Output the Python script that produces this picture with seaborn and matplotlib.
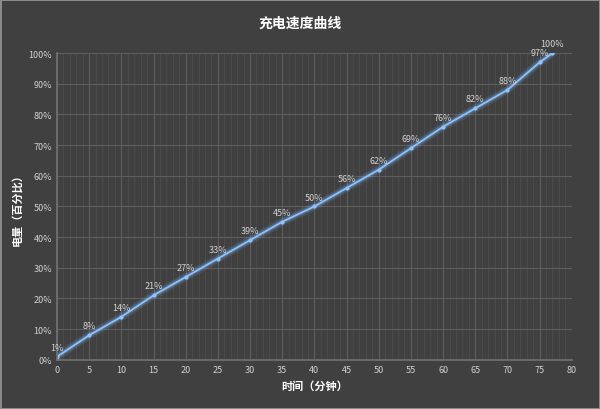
import matplotlib
matplotlib.use("Agg")
import matplotlib.pyplot as plt
import seaborn as sns
import pandas as pd
from matplotlib.ticker import MultipleLocator, FuncFormatter, NullLocator

minutes = [0, 5, 10, 15, 20, 25, 30, 35, 40, 45, 50, 55, 60, 65, 70, 75, 77]
percent = [1, 8, 14, 21, 27, 33, 39, 45, 50, 56, 62, 69, 76, 82, 88, 97, 100]
labels = [f"{p}%" for p in percent]

sns.set_theme(style="dark")
plt.rcParams['font.family'] = ['Noto Sans CJK SC', 'DejaVu Sans']
bg = "#404040"
fig = plt.figure(figsize=(6, 4.1), dpi=100, facecolor=bg, edgecolor="#8a8a8a", linewidth=2)
ax = fig.add_axes([0.095, 0.12, 0.858, 0.748], facecolor=bg)
df = pd.DataFrame({"m": minutes, "p": percent})
for lw, a in [(6, 0.12), (3.5, 0.25)]:
    ax.plot(df.m, df.p, color="#7fb8ff", lw=lw, alpha=a, solid_capstyle="round")
sns.lineplot(data=df, x="m", y="p", ax=ax, color="#8cc4ff", lw=1.3, marker="o",
             markersize=3, markeredgewidth=0)
for m, p, t in zip(minutes, percent, labels):
    ax.annotate(t, (m, p), xytext=(0, 5), textcoords="offset points", ha="center",
                fontsize=6.5, color="#d0d0d0")
ax.set_xlim(0, 80); ax.set_ylim(0, 100)
ax.xaxis.set_major_locator(MultipleLocator(5))
ax.xaxis.set_minor_locator(MultipleLocator(1))
ax.yaxis.set_major_locator(MultipleLocator(10))
ax.yaxis.set_minor_locator(NullLocator())
ax.yaxis.set_major_formatter(FuncFormatter(lambda v, _: f"{int(v)}%"))
ax.grid(which="major", color="#5e5e5e", lw=0.8)
ax.grid(which="minor", color="#4c4c4c", lw=0.6)
ax.tick_params(colors="#d0d0d0", labelsize=6.5, length=0)
for s in ax.spines.values():
    s.set_visible(False)
ax.spines["left"].set_visible(True); ax.spines["left"].set_color("#707070")
ax.spines["bottom"].set_visible(True); ax.spines["bottom"].set_color("#707070")
ax.set_xlabel("时间（分钟）", color="#ffffff", fontsize=8, fontweight="bold")
ax.set_ylabel("电量（百分比）", color="#ffffff", fontsize=8, fontweight="bold")
fig.suptitle("充电速度曲线", color="#ffffff", fontsize=10, fontweight="bold", y=0.96)
fig.savefig("out.png", facecolor=bg, edgecolor="#8a8a8a")
